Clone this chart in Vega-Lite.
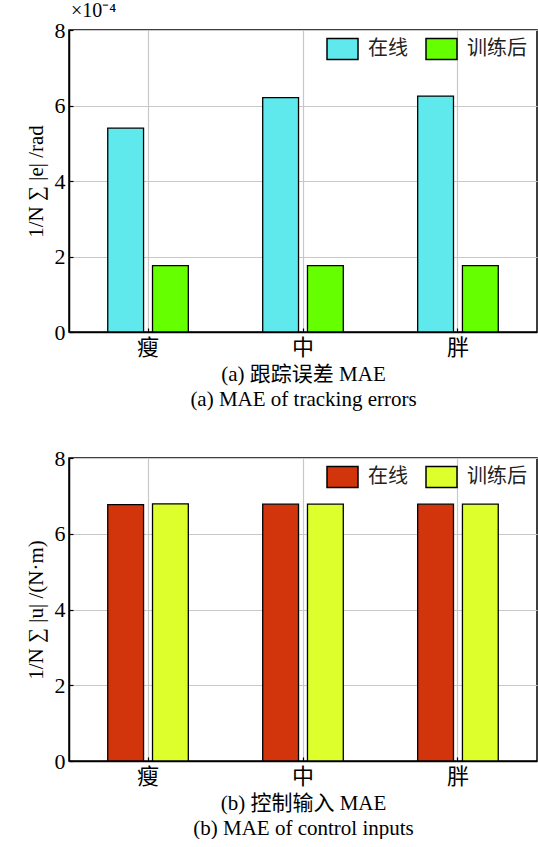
{
  "$schema": "https://vega.github.io/schema/vega-lite/v6.json",
  "padding": {"left": 24, "top": 0, "right": 0, "bottom": 0},
  "background": "white",
  "config": {
    "font": "Liberation Serif, Noto Sans CJK SC",
    "view": {"stroke": "#000", "strokeWidth": 1.5},
    "axis": {
      "labelFont": "Liberation Serif, Noto Sans CJK SC",
      "titleFont": "Liberation Serif, Noto Sans CJK SC",
      "labelFontSize": 22,
      "titleFontSize": 21,
      "labelColor": "#000",
      "titleColor": "#000",
      "titleFontWeight": "normal",
      "domainColor": "#000",
      "domainWidth": 1.5,
      "tickColor": "#000",
      "tickSize": -4,
      "tickWidth": 1.2,
      "gridColor": "#c8c8c8",
      "gridWidth": 1.2,
      "gridOpacity": 1
    },
    "legend": {
      "labelFont": "Noto Sans CJK SC",
      "labelFontSize": 20,
      "labelColor": "#222",
      "symbolType": "M-1,-0.68H1V0.68H-1Z",
      "symbolSize": 961,
      "symbolStrokeColor": "#000",
      "symbolStrokeWidth": 1.5,
      "symbolOpacity": 1,
      "labelOffset": 9,
      "columnPadding": 15,
      "padding": 0
    },
    "title": {"font": "Liberation Serif", "fontSize": 20, "fontWeight": "normal", "color": "#000"}
  },
  "datasets": {
    "mae": [
      {"panel": "a", "body": "瘦", "method": "在线", "value": 5.40},
      {"panel": "a", "body": "瘦", "method": "训练后", "value": 1.76},
      {"panel": "a", "body": "中", "method": "在线", "value": 6.21},
      {"panel": "a", "body": "中", "method": "训练后", "value": 1.76},
      {"panel": "a", "body": "胖", "method": "在线", "value": 6.25},
      {"panel": "a", "body": "胖", "method": "训练后", "value": 1.76},
      {"panel": "b", "body": "瘦", "method": "在线", "value": 6.77},
      {"panel": "b", "body": "瘦", "method": "训练后", "value": 6.79},
      {"panel": "b", "body": "中", "method": "在线", "value": 6.78},
      {"panel": "b", "body": "中", "method": "训练后", "value": 6.78},
      {"panel": "b", "body": "胖", "method": "在线", "value": 6.78},
      {"panel": "b", "body": "胖", "method": "训练后", "value": 6.78}
    ]
  },
  "spacing": 36,
  "resolve": {"scale": {"color": "independent"}, "legend": {"color": "independent"}},
  "vconcat": [
    {
      "data": {"name": "mae"},
      "transform": [{"filter": "datum.panel === 'a'"}],
      "width": 468,
      "height": 302,
      "title": {"text": "×10⁻⁴", "anchor": "start", "frame": "group", "offset": -2, "dx": 2},
      "mark": {"type": "bar", "stroke": "#000", "strokeWidth": 1.3},
      "encoding": {
        "x": {
          "field": "body", "type": "nominal", "sort": ["瘦", "中", "胖"],
          "scale": {"paddingInner": 0.48, "paddingOuter": 0.25},
          "axis": {"title": ["(a) 跟踪误差 MAE", "(a) MAE of tracking errors"], "labelAngle": 0, "labelPadding": 9, "titlePadding": 5, "titleLineHeight": 25, "grid": true, "bandPosition": 0.5}
        },
        "xOffset": {"field": "method", "type": "nominal", "sort": ["在线", "训练后"], "scale": {"paddingInner": 0.2}},
        "y": {
          "field": "value", "type": "quantitative",
          "scale": {"domain": [0, 8], "nice": false},
          "axis": {"values": [0, 2, 4, 6, 8], "title": "1/N ∑ |e| /rad", "labelPadding": 8, "titlePadding": 8}
        },
        "color": {
          "field": "method", "type": "nominal", "sort": ["在线", "训练后"],
          "scale": {"domain": ["在线", "训练后"], "range": ["#5fe9ec", "#66ff00"]},
          "legend": {"title": null, "orient": "none", "legendX": 257, "legendY": 2, "direction": "horizontal", "columns": 2}
        }
      }
    },
    {
      "data": {"name": "mae"},
      "transform": [{"filter": "datum.panel === 'b'"}],
      "width": 468,
      "height": 303,
      "mark": {"type": "bar", "stroke": "#000", "strokeWidth": 1.3},
      "encoding": {
        "x": {
          "field": "body", "type": "nominal", "sort": ["瘦", "中", "胖"],
          "scale": {"paddingInner": 0.48, "paddingOuter": 0.25},
          "axis": {"title": ["(b) 控制输入 MAE", "(b) MAE of control inputs"], "labelAngle": 0, "labelPadding": 9, "titlePadding": 5, "titleLineHeight": 25, "grid": true, "bandPosition": 0.5}
        },
        "xOffset": {"field": "method", "type": "nominal", "sort": ["在线", "训练后"], "scale": {"paddingInner": 0.2}},
        "y": {
          "field": "value", "type": "quantitative",
          "scale": {"domain": [0, 8], "nice": false},
          "axis": {"values": [0, 2, 4, 6, 8], "title": "1/N ∑ |u| /(N·m)", "labelPadding": 8, "titlePadding": 8}
        },
        "color": {
          "field": "method", "type": "nominal", "sort": ["在线", "训练后"],
          "scale": {"domain": ["在线", "训练后"], "range": ["#d2350b", "#ddff2b"]},
          "legend": {"title": null, "orient": "none", "legendX": 257, "legendY": 2, "direction": "horizontal", "columns": 2}
        }
      }
    }
  ]
}
